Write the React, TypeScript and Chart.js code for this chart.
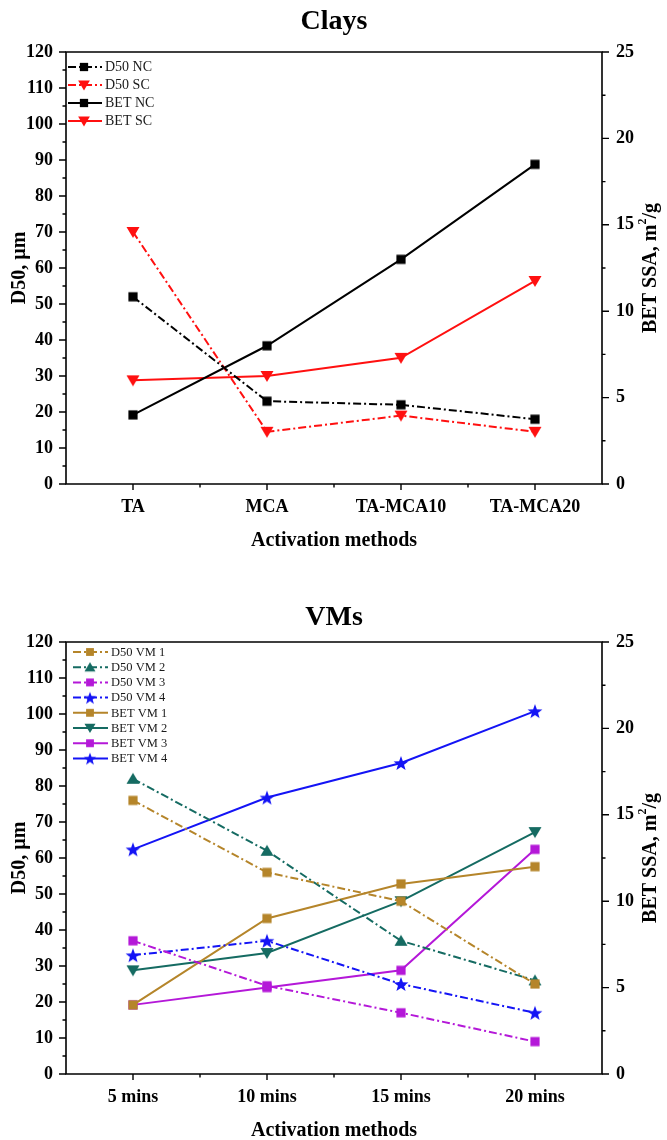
import React, { useEffect, useRef } from 'react';
import { Chart, registerables } from 'chart.js';
Chart.register(...registerables);

const FONT = "'Liberation Serif', 'Times New Roman', Times, serif";

// ---------- Data ----------
const clayCategories = ['TA', 'MCA', 'TA-MCA10', 'TA-MCA20'];
const d50NC = [52, 23, 22, 18];
const d50SC = [70, 14.5, 19, 14.5];
const betNC = [4.0, 8.0, 13.0, 18.5];
const betSC = [6.0, 6.25, 7.3, 11.75];

const vmCategories = ['5 mins', '10 mins', '15 mins', '20 mins'];
const d50VM1 = [76, 56, 48, 25];
const d50VM2 = [82, 62, 37, 26];
const d50VM3 = [37, 24.5, 17, 9];
const d50VM4 = [33, 37, 25, 17];
const betVM1 = [4, 9, 11, 12];
const betVM2 = [6, 7, 10, 14];
const betVM3 = [4, 5, 6, 13];
const betVM4 = [13, 16, 18, 21];

const leftAxis = { min: 0, max: 120, step: 10, minor: 5 };
const rightAxis = { min: 0, max: 25, step: 5, minor: 2.5 };

const GOLD = '#b5852a';
const TEAL = '#156b62';
const PURPLE = '#b418d8';
const BLUE = '#1414f5';
const RED = '#ff1010';
const BLACK = '#000000';

// ---------- markers ----------
function makeMarker(shape: string, color: string, scale = 1): HTMLCanvasElement {
  const s = 18;
  const c = document.createElement('canvas');
  c.width = s;
  c.height = s;
  const g = c.getContext('2d')!;
  g.fillStyle = color;
  const m = s / 2;
  g.beginPath();
  if (shape === 'square') {
    const h = 4.6 * scale;
    g.rect(m - h, m - h, 2 * h, 2 * h);
  } else if (shape === 'up') {
    g.moveTo(m, m - 6 * scale);
    g.lineTo(m + 6.5 * scale, m + 5 * scale);
    g.lineTo(m - 6.5 * scale, m + 5 * scale);
    g.closePath();
  } else if (shape === 'down') {
    g.moveTo(m, m + 6 * scale);
    g.lineTo(m + 6.5 * scale, m - 5 * scale);
    g.lineTo(m - 6.5 * scale, m - 5 * scale);
    g.closePath();
  } else {
    for (let k = 0; k < 10; k++) {
      const r = (k % 2 === 0 ? 7.8 : 3.2) * scale;
      const ang = -Math.PI / 2 + (k * Math.PI) / 5;
      const px = m + r * Math.cos(ang);
      const py = m + r * Math.sin(ang) + 0.8;
      if (k === 0) g.moveTo(px, py);
      else g.lineTo(px, py);
    }
    g.closePath();
  }
  g.fill();
  return c;
}

type Series = { label: string; data: number[]; axis: 'y' | 'y2'; color: string; dashed: boolean; shape: string };

type Spec = {
  title: string;
  titleY: number;
  categories: string[];
  height: number;
  plotTop: number;
  plotBottom: number;
  series: Series[];
  legend: { x0: number; x1: number; mx: number; lx: number; y0: number; dy: number; size: number; mscale: number };
};

const PLOT_LEFT = 66;
const PLOT_RIGHT = 602;
const DASH = [8, 3, 2, 3];

function drawRotatedParts(ctx: CanvasRenderingContext2D, x: number, y: number, parts: { t: string; sup?: boolean }[], size: number) {
  ctx.save();
  ctx.translate(x, y);
  ctx.rotate(-Math.PI / 2);
  const main = `bold ${size}px ${FONT}`;
  const sup = `bold ${Math.round(size * 0.6)}px ${FONT}`;
  let total = 0;
  const widths = parts.map((p) => {
    ctx.font = p.sup ? sup : main;
    const w = ctx.measureText(p.t).width;
    total += w;
    return w;
  });
  let cx = -total / 2;
  ctx.textBaseline = 'middle';
  ctx.textAlign = 'left';
  ctx.fillStyle = '#000';
  parts.forEach((p, i) => {
    ctx.font = p.sup ? sup : main;
    ctx.fillText(p.t, cx, p.sup ? -size * 0.38 : 0);
    cx += widths[i];
  });
  ctx.restore();
}

function buildChart(canvas: HTMLCanvasElement, spec: Spec) {
  const markers = spec.series.map((s) => makeMarker(s.shape, s.color, 1));
  const legendMarkers = spec.series.map((s) => makeMarker(s.shape, s.color, spec.legend.mscale));

  const decor = {
    id: 'decor',
    beforeDatasetsDraw(chart: any) {
      const { ctx, chartArea: a, scales } = chart;
      ctx.save();
      ctx.strokeStyle = '#000';
      ctx.lineWidth = 1.6;
      ctx.beginPath();
      ctx.rect(a.left, a.top, a.right - a.left, a.bottom - a.top);
      ctx.stroke();
      ctx.lineWidth = 1.4;
      ctx.beginPath();
      for (let v = leftAxis.min; v <= leftAxis.max + 1e-6; v += leftAxis.minor) {
        const len = Math.abs(v % leftAxis.step) < 1e-6 ? 7 : 3.5;
        const py = scales.y.getPixelForValue(v);
        ctx.moveTo(a.left - len, py);
        ctx.lineTo(a.left, py);
      }
      for (let v = rightAxis.min; v <= rightAxis.max + 1e-6; v += rightAxis.minor) {
        const len = Math.abs(v % rightAxis.step) < 1e-6 ? 7 : 3.5;
        const py = scales.y2.getPixelForValue(v);
        ctx.moveTo(a.right, py);
        ctx.lineTo(a.right + len, py);
      }
      const n = spec.categories.length;
      for (let i = 0; i < n; i++) {
        const px = scales.x.getPixelForValue(i);
        ctx.moveTo(px, a.bottom);
        ctx.lineTo(px, a.bottom + 6);
        if (i < n - 1) {
          const mx = (px + scales.x.getPixelForValue(i + 1)) / 2;
          ctx.moveTo(mx, a.bottom);
          ctx.lineTo(mx, a.bottom + 3.5);
        }
      }
      ctx.stroke();
      ctx.restore();
    },
    afterDraw(chart: any) {
      const { ctx, chartArea: a } = chart;
      ctx.save();
      ctx.fillStyle = '#000';
      ctx.textAlign = 'center';
      ctx.textBaseline = 'middle';
      ctx.font = `bold 28px ${FONT}`;
      ctx.fillText(spec.title, (a.left + a.right) / 2, spec.titleY);
      ctx.font = `bold 20px ${FONT}`;
      ctx.fillText('Activation methods', (a.left + a.right) / 2, a.bottom + 57);
      ctx.restore();
      const cy = (a.top + a.bottom) / 2;
      drawRotatedParts(ctx, 20, cy, [{ t: 'D50, µm' }], 20);
      drawRotatedParts(ctx, 651, cy, [{ t: 'BET SSA, m' }, { t: '2', sup: true }, { t: '/g' }], 20);

      // legend
      const L = spec.legend;
      ctx.save();
      spec.series.forEach((s, i) => {
        const y = L.y0 + i * L.dy;
        ctx.strokeStyle = s.color;
        ctx.lineWidth = 2;
        ctx.setLineDash(s.dashed ? DASH : []);
        ctx.beginPath();
        ctx.moveTo(L.x0, y);
        ctx.lineTo(L.x1, y);
        ctx.stroke();
        const mk = legendMarkers[i];
        ctx.drawImage(mk, L.mx - mk.width / 2, y - mk.height / 2);
        ctx.fillStyle = '#1a1a1a';
        ctx.font = `${L.size}px ${FONT}`;
        ctx.textAlign = 'left';
        ctx.textBaseline = 'middle';
        ctx.fillText(s.label, L.lx, y + 0.5);
      });
      ctx.restore();
    },
  };

  const tickFont = { family: FONT, size: 18, weight: 'bold' as const };

  return new Chart(canvas, {
    type: 'line',
    data: {
      labels: spec.categories,
      datasets: spec.series.map((s, i) => ({
        label: s.label,
        data: s.data,
        yAxisID: s.axis,
        borderColor: s.color,
        backgroundColor: s.color,
        borderWidth: 2,
        borderDash: s.dashed ? DASH : [],
        pointStyle: markers[i] as any,
        pointRadius: 5,
        pointHoverRadius: 5,
        tension: 0,
        fill: false,
        clip: false as any,
      })),
    },
    options: {
      responsive: false,
      animation: false,
      devicePixelRatio: 1,
      layout: { padding: { top: spec.plotTop, left: 0, right: 0, bottom: 0 } },
      plugins: { legend: { display: false }, title: { display: false }, tooltip: { enabled: false } },
      scales: {
        x: {
          type: 'category',
          offset: true,
          grid: { display: false, drawTicks: false },
          border: { display: false },
          ticks: { font: tickFont, color: '#000', padding: 13, maxRotation: 0, autoSkip: false },
          afterFit: (sc: any) => {
            sc.height = spec.height - spec.plotBottom;
          },
        },
        y: {
          type: 'linear',
          position: 'left',
          min: leftAxis.min,
          max: leftAxis.max,
          grid: { display: false, drawTicks: false },
          border: { display: false },
          ticks: { stepSize: leftAxis.step, font: tickFont, color: '#000', padding: 13 },
          afterFit: (sc: any) => {
            sc.width = PLOT_LEFT;
          },
        },
        y2: {
          type: 'linear',
          position: 'right',
          min: rightAxis.min,
          max: rightAxis.max,
          grid: { display: false, drawTicks: false },
          border: { display: false },
          ticks: { stepSize: rightAxis.step, font: tickFont, color: '#000', padding: 14 },
          afterFit: (sc: any) => {
            sc.width = 667 - PLOT_RIGHT;
          },
        },
      },
    },
    plugins: [decor],
  } as any);
}

const claySpec: Spec = {
  title: 'Clays',
  titleY: 22,
  categories: clayCategories,
  height: 570,
  plotTop: 52,
  plotBottom: 484,
  series: [
    { label: 'D50 NC', data: d50NC, axis: 'y', color: BLACK, dashed: true, shape: 'square' },
    { label: 'D50 SC', data: d50SC, axis: 'y', color: RED, dashed: true, shape: 'down' },
    { label: 'BET NC', data: betNC, axis: 'y2', color: BLACK, dashed: false, shape: 'square' },
    { label: 'BET SC', data: betSC, axis: 'y2', color: RED, dashed: false, shape: 'down' },
  ],
  legend: { x0: 68, x1: 102, mx: 84, lx: 105, y0: 67, dy: 18, size: 14, mscale: 0.9 },
};

const vmSpec: Spec = {
  title: 'VMs',
  titleY: 48,
  categories: vmCategories,
  height: 570,
  plotTop: 72,
  plotBottom: 504,
  series: [
    { label: 'D50 VM 1', data: d50VM1, axis: 'y', color: GOLD, dashed: true, shape: 'square' },
    { label: 'D50 VM 2', data: d50VM2, axis: 'y', color: TEAL, dashed: true, shape: 'up' },
    { label: 'D50 VM 3', data: d50VM3, axis: 'y', color: PURPLE, dashed: true, shape: 'square' },
    { label: 'D50 VM 4', data: d50VM4, axis: 'y', color: BLUE, dashed: true, shape: 'star' },
    { label: 'BET VM 1', data: betVM1, axis: 'y2', color: GOLD, dashed: false, shape: 'square' },
    { label: 'BET VM 2', data: betVM2, axis: 'y2', color: TEAL, dashed: false, shape: 'down' },
    { label: 'BET VM 3', data: betVM3, axis: 'y2', color: PURPLE, dashed: false, shape: 'square' },
    { label: 'BET VM 4', data: betVM4, axis: 'y2', color: BLUE, dashed: false, shape: 'star' },
  ],
  legend: { x0: 73, x1: 108, mx: 90, lx: 111, y0: 82, dy: 15.2, size: 12.5, mscale: 0.85 },
};

function ChartBox({ spec, top }: { spec: Spec; top: number }) {
  const ref = useRef<HTMLCanvasElement | null>(null);
  useEffect(() => {
    if (!ref.current) return;
    const ch = buildChart(ref.current, spec);
    return () => ch.destroy();
  }, [spec]);
  return (
    <div style={{ position: 'absolute', left: 0, top, width: 667, height: spec.height }}>
      <canvas ref={ref} width={667} height={spec.height} style={{ display: 'block', width: 667, height: spec.height }} />
    </div>
  );
}

export default function App() {
  return (
    <div style={{ position: 'absolute', left: 0, top: 0, width: 667, height: 1140, background: '#fff' }}>
      <ChartBox spec={claySpec} top={0} />
      <ChartBox spec={vmSpec} top={570} />
    </div>
  );
}
